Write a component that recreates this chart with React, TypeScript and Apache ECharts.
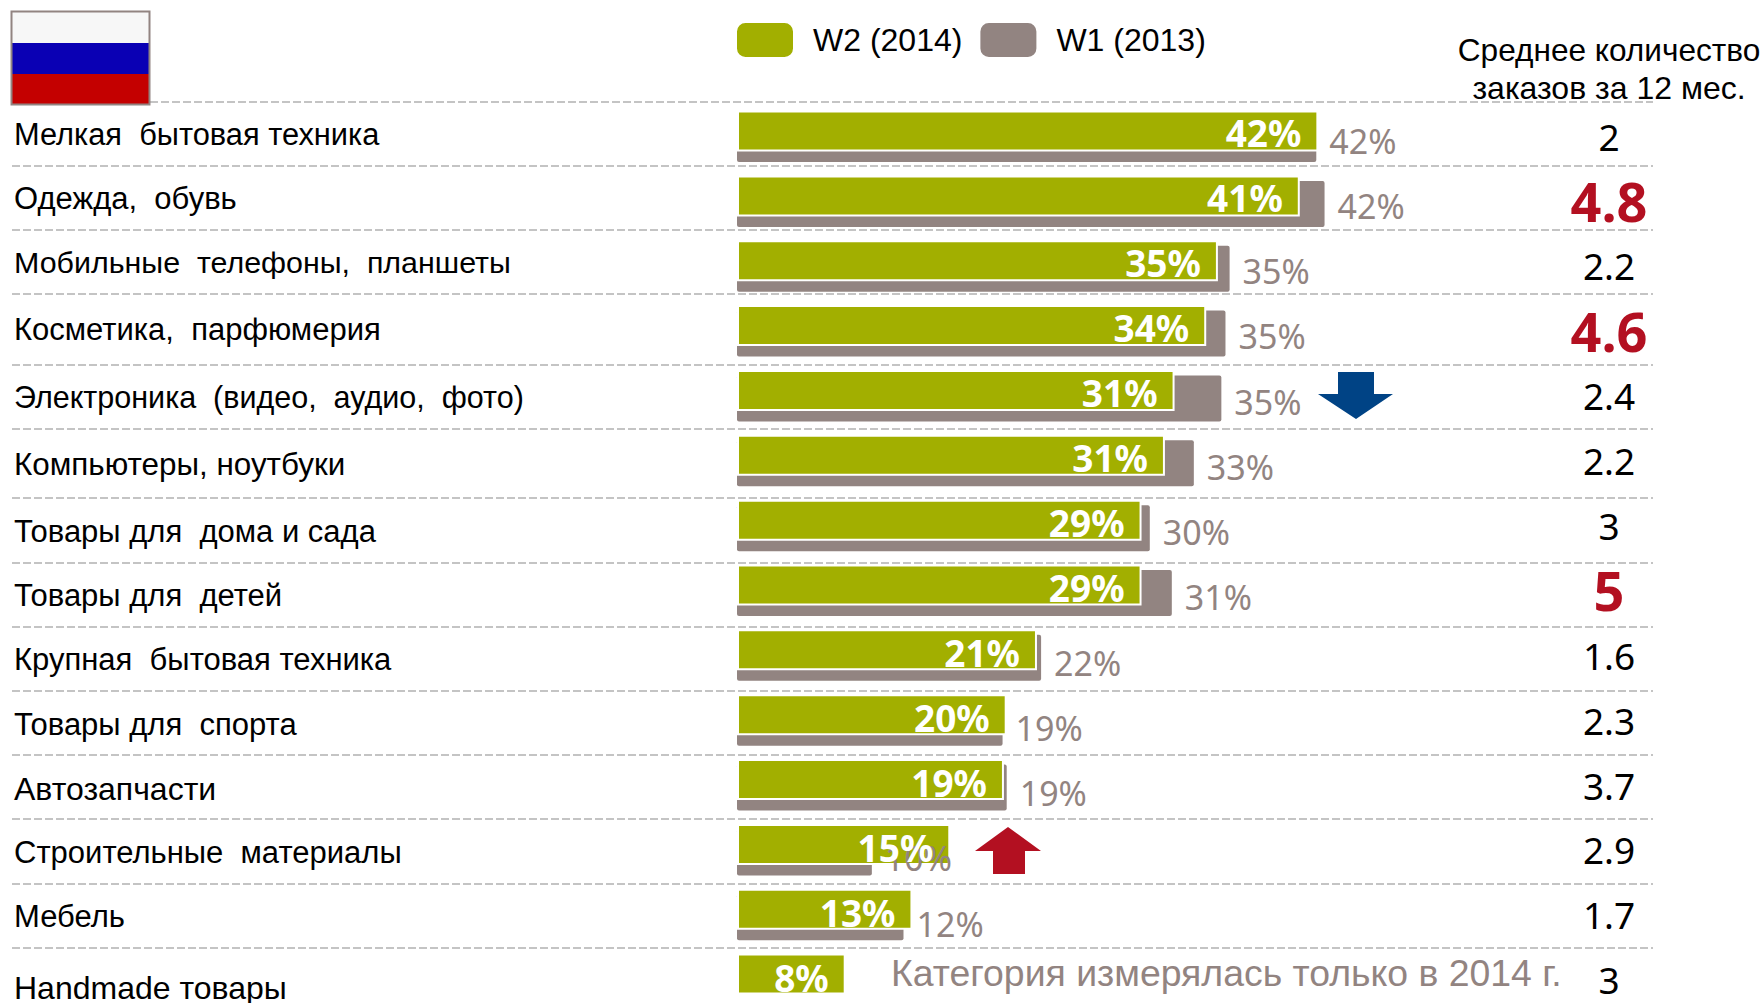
import React, { useEffect, useRef } from "react";
import * as echarts from "echarts";

const categories = [
  "Мелкая  бытовая техника",
  "Одежда,  обувь",
  "Мобильные  телефоны,  планшеты",
  "Косметика,  парфюмерия",
  "Электроника  (видео,  аудио,  фото)",
  "Компьютеры, ноутбуки",
  "Товары для  дома и сада",
  "Товары для  детей",
  "Крупная  бытовая техника",
  "Товары для  спорта",
  "Автозапчасти",
  "Строительные  материалы",
  "Мебель",
  "Handmade товары",
];
const w2Values = [42.25, 40.9, 34.95, 34.1, 31.8, 31.1, 29.4, 29.4, 21.8, 19.6, 19.4, 15.5, 12.75, 7.9];
const w1Values = [42.1, 42.7, 35.8, 35.5, 35.2, 33.2, 30.0, 31.6, 22.1, 19.3, 19.6, 9.8, 12.1, null];
const w2Labels = ["42%", "41%", "35%", "34%", "31%", "31%", "29%", "29%", "21%", "20%", "19%", "15%", "13%", "8%"];
const w1Labels = ["42%", "42%", "35%", "35%", "35%", "33%", "30%", "31%", "22%", "19%", "19%", "10%", "12%", ""];
const orderCounts = ["2", "4.8", "2.2", "4.6", "2.4", "2.2", "3", "5", "1.6", "2.3", "3.7", "2.9", "1.7", "3"];
const highlighted = ["4.8", "4.6", "5"];
const separatorY = [102, 166, 230, 294, 365, 429, 498, 563, 627, 691, 755, 819, 884, 948];
const categoryY = [134.5, 198.5, 261.5, 329.5, 396.5, 464.5, 531.5, 595.5, 659.5, 724.5, 788.5, 852.5, 916.5, 988];
const categorySize = [30.8, 31, 30.4, 31, 30.5, 31.4, 31, 31, 31, 31, 32, 31, 31, 32];

const GREEN = "#A2AF00";
const GRAY = "#928481";
const RED = "#B31021";
const BLUE = "#004385";
const SANS = "'Liberation Sans', Arial, sans-serif";
const NOTO = "'Noto Sans', Tahoma, sans-serif";

export default function App() {
  const ref = useRef<HTMLDivElement>(null);
  useEffect(() => {
    document.body.style.margin = "0";
    const chart = echarts.init(ref.current!, undefined, { renderer: "svg" });
    const text = (x: number, y: number, t: string, size: number, fill: string, font = SANS, align = "left", weight = "normal") => ({
      type: "text", x, y, z: 10, silent: true,
      style: { text: t, fontSize: size, fontFamily: font, fontWeight: weight, fill, align, verticalAlign: "middle" },
    });
    const graphics: any[] = [];
    separatorY.forEach((y, i) => {
      graphics.push({
        type: "line", z: 0, silent: true,
        shape: { x1: i === 0 ? 150 : 12, y1: y, x2: 1653, y2: y },
        style: { stroke: "#C4C4C4", lineWidth: 2, lineDash: [8, 3] },
      });
    });
    categories.forEach((c, i) => graphics.push(text(14, categoryY[i], c, categorySize[i], "#000")));
    orderCounts.forEach((v, i) => {
      const y = 136 + 64.9 * i;
      graphics.push(
        highlighted.includes(v)
          ? text(1609, y, v, 54, RED, NOTO, "center", "bold")
          : text(1609, y, v, 37, "#000", NOTO, "center")
      );
    });
    graphics.push(
      { type: "rect", shape: { x: 12, y: 12, width: 137, height: 92 }, style: { fill: "#F7F7F7" }, z: 5 },
      { type: "rect", shape: { x: 12, y: 43, width: 137, height: 31 }, style: { fill: "#0A00B4" }, z: 5 },
      { type: "rect", shape: { x: 12, y: 74, width: 137, height: 30 }, style: { fill: "#C40000" }, z: 5 },
      { type: "rect", shape: { x: 11.5, y: 11.5, width: 138, height: 93 }, style: { fill: "none", stroke: GRAY, lineWidth: 2 }, z: 6 },
      text(1609, 50, "Среднее количество", 31.6, "#000", SANS, "center") as any,
      text(1609, 88, "заказов за 12 мес.", 32, "#000", SANS, "center") as any,
      text(891, 973, "Категория измерялась только в 2014 г.", 37.4, GRAY) as any,
      {
        type: "polygon", z: 5,
        shape: { points: [[1338, 372], [1374, 372], [1374, 394], [1393, 394], [1356, 419], [1318, 394], [1338, 394]] },
        style: { fill: BLUE },
      },
      {
        type: "polygon", z: 5,
        shape: { points: [[1008, 827], [1041, 851], [1025, 851], [1025, 874], [993, 874], [993, 851], [975, 851]] },
        style: { fill: RED },
      }
    );
    const grid = (top: number, height: number) => ({ left: 737, top, width: 963.2, height, outerBoundsMode: "none" });
    const gridIds = [0, 1, 2, 3];
    chart.setOption({
      animation: false,
      backgroundColor: "#fff",
      grid: [grid(98.6, 907.9), grid(106.6, 907.9), grid(108, 913.5), grid(100.3, 910)],
      xAxis: gridIds.map((gridIndex) => ({ type: "value", gridIndex, min: 0, max: 70, show: false })),
      yAxis: gridIds.map((gridIndex) => ({ type: "category", gridIndex, data: categories, inverse: true, show: false })),
      legend: {
        left: 737, top: 23, padding: 0, itemWidth: 56, itemHeight: 34, itemGap: 18,
        icon: "roundRect", data: ["W2 (2014)", "W1 (2013)"],
        itemStyle: { borderWidth: 0 },
        textStyle: { fontSize: 32, fontFamily: SANS, color: "#000", padding: [0, 0, 0, 15] },
      },
      graphic: graphics,
      series: [
        {
          name: "W1 (2013)", type: "bar", xAxisIndex: 1, yAxisIndex: 1, data: w1Values, barWidth: 46, z: 1,
          itemStyle: { color: GRAY, borderRadius: 2 },
        },
        {
          name: "W2 (2014)", type: "bar", xAxisIndex: 0, yAxisIndex: 0, data: w2Values, barWidth: 41, z: 2,
          itemStyle: { color: GREEN, borderColor: "#fff", borderWidth: 2 },
        },
        {
          name: "W1 labels", type: "bar", xAxisIndex: 2, yAxisIndex: 2, data: w1Values, barWidth: 20, z: 3, silent: true,
          itemStyle: { color: "transparent" },
          label: {
            show: true, position: "right", distance: 13,
            formatter: (p: any) => w1Labels[p.dataIndex],
            fontSize: 34, fontFamily: NOTO, color: GRAY,
          },
        },
        {
          name: "W2 labels", type: "bar", xAxisIndex: 3, yAxisIndex: 3, data: w2Values, barWidth: 20, z: 4, silent: true,
          itemStyle: { color: "transparent" },
          label: {
            show: true, position: "insideRight", distance: 17,
            formatter: (p: any) => w2Labels[p.dataIndex],
            fontSize: 37, fontWeight: "bold", fontFamily: NOTO, color: "#fff",
          },
        },
      ],
    });
    return () => chart.dispose();
  }, []);
  return <div ref={ref} style={{ width: 1764, height: 1003 }} />;
}
